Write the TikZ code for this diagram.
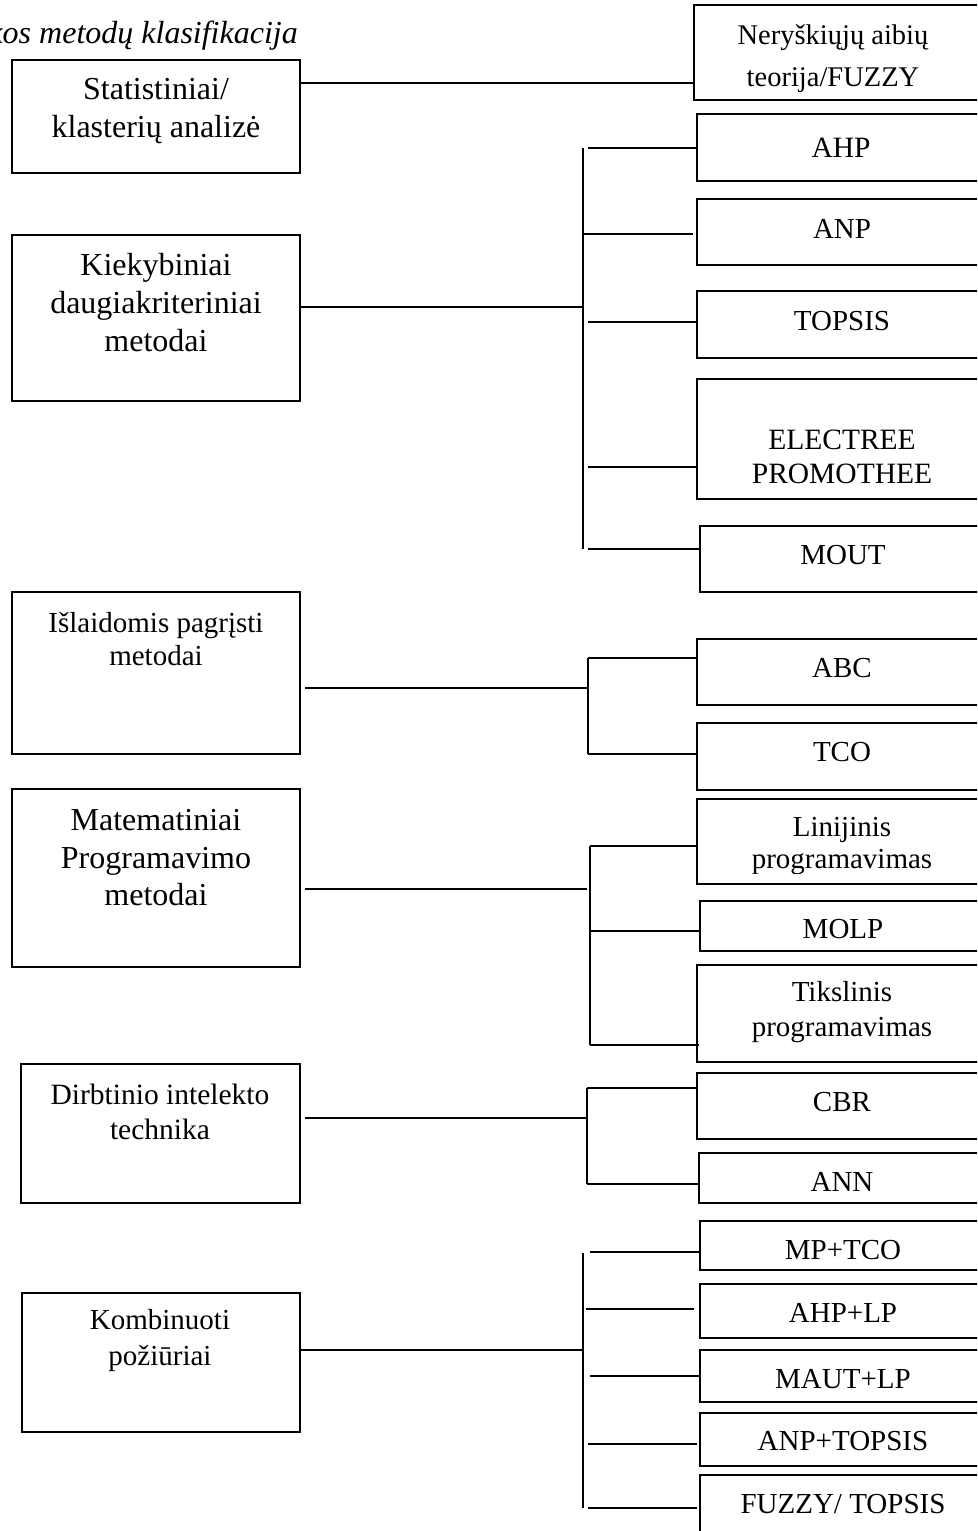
\documentclass[tikz,border=0pt]{standalone}
\usepackage{fontspec}
\setmainfont{Liberation Serif}
\usetikzlibrary{fit}
\tikzset{
  box/.style={draw, line width=2.2pt, inner sep=0pt},
  conn/.style={draw, line width=2.2pt},
  txt/.style={align=center, inner sep=0pt},
}
\newcommand\fs[2]{\fontsize{#1}{#2}\selectfont}
\newcommand\brn[5]{\coordinate (#1) at (#2,#3); \draw[conn, shorten >=#5] (#1) -- (#4.west |- #1);}
\begin{document}
\begin{tikzpicture}[x=1pt,y=-1pt]
\fill[white] (0,0) rectangle (977,1531);
\clip (0,0) rectangle (977,1531);

% title
\node[txt, anchor=base east, font=\itshape\fs{32}{38}] (title) at (298,43) {kos metodų klasifikacija};

% left boxes
\node[box, fit={(12,60) (300,173)}] (stat) {};
\node[txt, font=\fs{32}{38}] (stat-t) at (156,111) {Statistiniai/\\klasterių analizė};

\node[box, fit={(12,235) (300,401)}] (kiek) {};
\node[txt, font=\fs{32}{38}] (kiek-t) at (156,303) {Kiekybiniai\\daugiakriteriniai\\metodai};

\node[box, fit={(12,592) (300,754)}] (isl) {};
\node[txt, font=\fs{29}{33}] (isl-t) at (156,639) {Išlaidomis pagrįsti\\metodai};

\node[box, fit={(12,789) (300,967)}] (mat) {};
\node[txt, font=\fs{32}{37.5}] (mat-t) at (156,858) {Matematiniai\\Programavimo\\metodai};

\node[box, fit={(21,1064) (300,1203)}] (dirb) {};
\node[txt, font=\fs{29.5}{35}] (dirb-t) at (160,1112) {Dirbtinio intelekto\\technika};

\node[box, fit={(22,1293) (300,1432)}] (komb) {};
\node[txt, font=\fs{29}{36}] (komb-t) at (160,1341) {Kombinuoti\\požiūriai};

% right boxes
\node[box, fit={(694,5) (989,100)}] (fuzz) {};
\node[txt, font=\fs{28.5}{42}] (fuzz-t) at (833,59) {Neryškiųjų aibių\\teorija/FUZZY};

\node[box, fit={(697,114) (989,181)}] (ahp) {};
\node[txt, anchor=base, font=\fs{29.5}{34}] (ahp-t) at (841,157) {AHP};

\node[box, fit={(697,199) (989,265)}] (anp) {};
\node[txt, anchor=base, font=\fs{29}{34}] (anp-t) at (842,238) {ANP};

\node[box, fit={(697,291) (989,358)}] (topsis) {};
\node[txt, anchor=base, font=\fs{29}{34}] (topsis-t) at (842,330) {TOPSIS};

\node[box, fit={(697,379) (989,499)}] (elec) {};
\node[txt, font=\fs{29.5}{34}] (elec-t) at (842,457) {ELECTREE\\PROMOTHEE};

\node[box, fit={(700,526) (989,592)}] (mout) {};
\node[txt, anchor=base, font=\fs{29}{34}] (mout-t) at (843,564) {MOUT};

\node[box, fit={(697,639) (989,705)}] (abc) {};
\node[txt, anchor=base, font=\fs{29}{34}] (abc-t) at (842,677) {ABC};

\node[box, fit={(697,723) (989,790)}] (tco) {};
\node[txt, anchor=base, font=\fs{29}{34}] (tco-t) at (842,761) {TCO};

\node[box, fit={(697,799) (989,884)}] (lin) {};
\begin{scope}
\clip (697,799) rectangle (989,873);
\node[txt, font=\fs{29}{32}] (lin-t) at (842,846) {Linijinis\\programavimas};
\end{scope}

\node[box, fit={(700,901) (989,951)}] (molp) {};
\node[txt, anchor=base, font=\fs{29}{34}] (molp-t) at (843,938) {MOLP};

\node[box, fit={(697,965) (989,1062)}] (tiks) {};
\node[txt, font=\fs{29}{35}] (tiks-t) at (842,1012.5) {Tikslinis\\programavimas};

\node[box, fit={(697,1073) (989,1139)}] (cbr) {};
\node[txt, anchor=base, font=\fs{29}{34}] (cbr-t) at (842,1111) {CBR};

\node[box, fit={(699,1153) (989,1203)}] (ann) {};
\node[txt, anchor=base, font=\fs{29}{34}] (ann-t) at (842,1191) {ANN};

\node[box, fit={(700,1221) (989,1270)}] (mptco) {};
\node[txt, anchor=base, font=\fs{29}{34}] (mptco-t) at (843,1259) {MP+TCO};

\node[box, fit={(700,1284) (989,1338)}] (ahplp) {};
\node[txt, anchor=base, font=\fs{29}{34}] (ahplp-t) at (843,1322) {AHP+LP};

\node[box, fit={(700,1350) (989,1402)}] (mautlp) {};
\node[txt, anchor=base, font=\fs{29}{34}] (mautlp-t) at (843,1388) {MAUT+LP};

\node[box, fit={(700,1413) (989,1466)}] (anptop) {};
\node[txt, anchor=base, font=\fs{29}{34}] (anptop-t) at (843,1450) {ANP+TOPSIS};

\node[box, fit={(700,1475) (989,1570)}] (fuztop) {};
\node[txt, anchor=base, font=\fs{29}{34}] (fuztop-t) at (843,1513) {FUZZY/ TOPSIS};

% connectors: group 0
\coordinate (c0) at (300,83);
\draw[conn] (stat.east |- c0) -- (fuzz.west |- c0);

% group 1
\coordinate (k0) at (583,307);
\coordinate (kt) at (583,148);
\coordinate (kb) at (583,549);
\draw[conn] (kiek.east |- k0) -- (k0);
\draw[conn] (kt) -- (kb);
\brn{k1}{588}{148}{ahp}{0pt}
\brn{k2}{584}{234}{anp}{3pt}
\brn{k3}{588}{322}{topsis}{0pt}
\brn{k4}{588}{467}{elec}{0pt}
\brn{k5}{588}{549}{mout}{0pt}

% group 2
\coordinate (i0) at (588,688);
\coordinate (it) at (588,658);
\coordinate (ib) at (588,754);
\draw[conn, shorten <=4pt] (isl.east |- i0) -- (i0);
\draw[conn] (it) -- (ib);
\brn{i1}{588}{658}{abc}{0pt}
\brn{i2}{588}{754}{tco}{0pt}

% group 3
\coordinate (m0) at (587,889);
\coordinate (mt) at (590,846);
\coordinate (mb) at (590,1045);
\draw[conn, shorten <=4pt] (mat.east |- m0) -- (m0);
\draw[conn] (mt) -- (mb);
\brn{m1}{590}{846}{lin}{0pt}
\brn{m2}{590}{931}{molp}{0pt}
\brn{m3}{590}{1045}{tiks}{-3pt}

% group 4
\coordinate (d0) at (587,1118);
\coordinate (dt) at (587,1088);
\coordinate (db) at (587,1184);
\draw[conn, shorten <=4pt] (dirb.east |- d0) -- (d0);
\draw[conn] (dt) -- (db);
\brn{d1}{587}{1088}{cbr}{0pt}
\brn{d2}{587}{1184}{ann}{0pt}

% group 5
\coordinate (p0) at (583,1350);
\coordinate (pt) at (583,1253);
\coordinate (pb) at (583,1508);
\draw[conn] (komb.east |- p0) -- (p0);
\draw[conn] (pt) -- (pb);
\brn{p1}{590}{1252}{mptco}{0pt}
\brn{p2}{586}{1309}{ahplp}{5pt}
\brn{p3}{590}{1376}{mautlp}{0pt}
\brn{p4}{588}{1444}{anptop}{2pt}
\brn{p5}{588}{1508}{fuztop}{2pt}
\end{tikzpicture}
\end{document}
